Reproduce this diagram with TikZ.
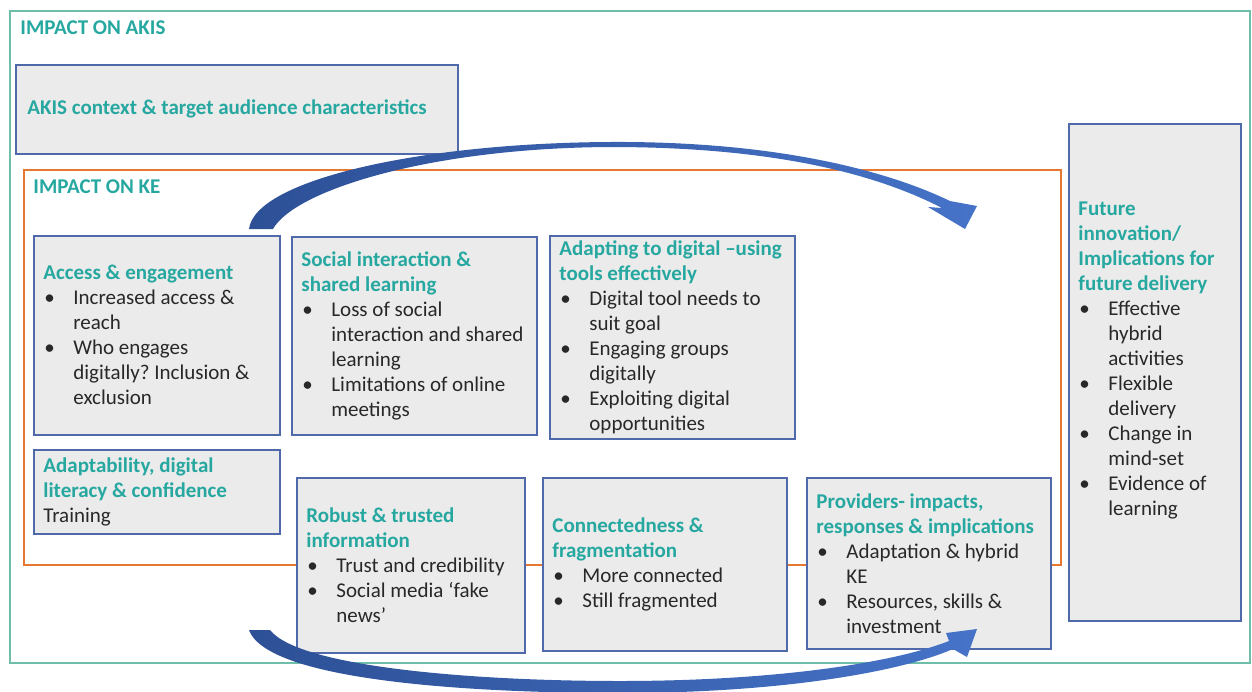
\documentclass[tikz,border=0pt]{standalone}
\usepackage{fontspec}
\setmainfont{Carlito}
\usepackage{xcolor}
\definecolor{akteal}{RGB}{38,168,160}
\definecolor{frameteal}{RGB}{110,190,170}
\definecolor{keorange}{RGB}{230,120,50}
\definecolor{boxblue}{RGB}{80,105,170}
\definecolor{boxgrey}{RGB}{235,235,235}
\definecolor{arrowdark}{RGB}{45,80,150}
\definecolor{arrowlight}{RGB}{70,115,200}
\definecolor{bodytext}{RGB}{40,40,40}
\newcommand{\hd}[1]{{\bfseries\color{akteal}#1}}
\newcommand{\bl}{\makebox[15pt][l]{\hspace{0.5pt}\textbullet}}
\newcommand{\cl}{\hspace*{15pt}}
\begin{document}
\begin{tikzpicture}[x=0.5pt,y=-0.5pt,
        kbox/.style={draw=boxblue,line width=0.8pt,fill=boxgrey,anchor=north west,inner sep=0pt},
        ktext/.style={anchor=west,inner sep=0pt,align=left,text=bodytext,
                font=\fontsize{10.5}{12.5}\selectfont\frenchspacing},
        frametitle/.style={anchor=north west,inner sep=0pt,text=akteal,
                font=\fontsize{10.5}{12.5}\selectfont\bfseries}]
    \useasboundingbox (0,0) rectangle (1252,691);
    % frames
    \draw[frameteal,line width=1pt] (10,11) rectangle (1250,663);
    \node[frametitle] (akistitle) at (20,20) {IMPACT ON AKIS};
    \draw[keorange,line width=1pt] (24,170) rectangle (1061,565);
    \node[frametitle] (ketitle) at (33,179) {IMPACT ON KE};
    % boxes
    \node[kbox,minimum width=221pt,minimum height=44.5pt] (akis) at (15,64) {};
    \node[kbox,minimum width=123pt,minimum height=99.5pt] (access) at (33,235) {};
    \node[kbox,minimum width=122.5pt,minimum height=99pt] (social) at (291,236) {};
    \node[kbox,minimum width=122.5pt,minimum height=101.5pt] (adapting) at (549,235) {};
    \node[kbox,minimum width=123pt,minimum height=42pt] (adaptability) at (33,449) {};
    \node[kbox,minimum width=114pt,minimum height=87.5pt] (robust) at (296,477) {};
    \node[kbox,minimum width=122pt,minimum height=86.5pt] (connect) at (542,477) {};
    \node[kbox,minimum width=122pt,minimum height=85.5pt] (providers) at (806,477) {};
    \node[kbox,minimum width=86pt,minimum height=248.5pt] (future) at (1068,123) {};
    % box texts
    \node[ktext] (akistext) at ([xshift=6pt]akis.west)
        {\hd{AKIS context \& target audience characteristics}};
    \node[ktext] (accesstext) at ([xshift=5pt]access.west)
        {\hd{Access \& engagement}\\
         \bl Increased access \&\\
         \cl reach\\
         \bl Who engages\\
         \cl digitally? Inclusion \&\\
         \cl exclusion};
    \node[ktext] (socialtext) at ([xshift=5pt]social.west)
        {\hd{Social interaction \&}\\
         \hd{shared learning}\\
         \bl Loss of social\\
         \cl interaction and shared\\
         \cl learning\\
         \bl Limitations of online\\
         \cl meetings};
    \node[ktext] (adaptingtext) at ([xshift=5pt]adapting.west)
        {\hd{Adapting to digital –using}\\
         \hd{tools effectively}\\
         \bl Digital tool needs to\\
         \cl suit goal\\
         \bl Engaging groups\\
         \cl digitally\\
         \bl Exploiting digital\\
         \cl opportunities};
    \node[ktext] (adaptabilitytext) at ([xshift=5pt]adaptability.west)
        {\hd{Adaptability, digital}\\
         \hd{literacy \& confidence}\\
         Training};
    \node[ktext] (robusttext) at ([xshift=5pt]robust.west)
        {\hd{Robust \& trusted}\\
         \hd{information}\\
         \bl Trust and credibility\\
         \bl Social media ‘fake\\
         \cl news’};
    \node[ktext] (connecttext) at ([xshift=5pt]connect.west)
        {\hd{Connectedness \&}\\
         \hd{fragmentation}\\
         \bl More connected\\
         \bl Still fragmented};
    \node[ktext] (providerstext) at ([xshift=5pt]providers.west)
        {\hd{Providers- impacts,}\\
         \hd{responses \& implications}\\
         \bl Adaptation \& hybrid\\
         \cl KE\\
         \bl Resources, skills \&\\
         \cl investment};
    \node[ktext] (futuretext) at ([xshift=5pt,yshift=6pt]future.west)
        {\hd{Future}\\
         \hd{innovation/}\\
         \hd{Implications for}\\
         \hd{future delivery}\\
         \bl Effective\\
         \cl hybrid\\
         \cl activities\\
         \bl Flexible\\
         \cl delivery\\
         \bl Change in\\
         \cl mind-set\\
         \bl Evidence of\\
         \cl learning};
    % curved arrows
    \shade[left color=arrowdark,right color=arrowlight]
        (249,229) .. controls (255,180) and (420,143) .. (610,142)
        .. controls (780,141) and (890,172) .. (950,201) -- (977,206) -- (965,229) -- (928,207) -- (942,208)
        .. controls (880,176) and (780,147) .. (610,147)
        .. controls (430,148) and (295,190) .. (273,229) -- cycle;
    \shade[left color=arrowdark,right color=arrowlight]
        (249,630) .. controls (268,682) and (480,693) .. (620,693)
        .. controls (780,693) and (900,672) .. (953,649) -- (967,657) -- (977,629) -- (946,633) -- (949,641)
        .. controls (890,664) and (770,681) .. (620,681)
        .. controls (480,681) and (300,668) .. (270,630) -- cycle;
\end{tikzpicture}
\end{document}
